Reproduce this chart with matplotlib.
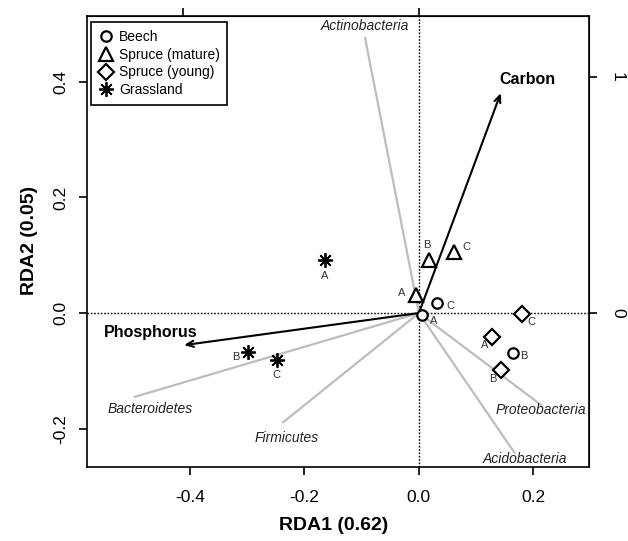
import matplotlib
matplotlib.use('Agg')
import matplotlib.pyplot as plt
import numpy as np

plt.rcParams['font.family'] = ['Liberation Sans', 'DejaVu Sans']
plt.rcParams['axes.unicode_minus'] = False

# site scores (RDA1, RDA2)
groups = ['Beech', 'Spruce (mature)', 'Spruce (young)', 'Grassland']
site_labels = ['A', 'B', 'C']
beech_x = [0.006, 0.164, 0.032]
beech_y = [-0.003, -0.069, 0.018]
spruce_m_x = [-0.005, 0.018, 0.062]
spruce_m_y = [0.032, 0.092, 0.105]
spruce_y_x = [0.128, 0.144, 0.180]
spruce_y_y = [-0.041, -0.098, -0.002]
grass_x = [-0.164, -0.298, -0.248]
grass_y = [0.092, -0.068, -0.082]

# species scores (gray lines)
species = ['Actinobacteria', 'Bacteroidetes', 'Firmicutes', 'Proteobacteria', 'Acidobacteria']
species_x = [-0.094, -0.496, -0.237, 0.213, 0.167]
species_y = [0.476, -0.145, -0.189, -0.159, -0.242]

# environmental vectors (secondary axis units)
env = ['Carbon', 'Phosphorus']
env_x = [0.347, -0.996]
env_y = [0.932, -0.136]

kx = 2.43   # primary -> secondary scale
ky = 2.45

fig = plt.figure(figsize=(6.28, 5.41), dpi=100)
ax = fig.add_axes([0.138, 0.1362, 0.800, 0.8342])
ax.set_xlim(-0.580, 0.297)
ax.set_ylim(-0.267, 0.514)

ax.axhline(0, color='black', lw=1.0, ls=(0, (1.2, 1.2)), zorder=1)
ax.axvline(0, color='black', lw=1.0, ls=(0, (1.2, 1.2)), zorder=1)

# species lines
sp_lab_off = [(0, 12), (15, -12), (4, -16), (0, -5), (10, -6)]
for name, sx, sy, off in zip(species, species_x, species_y, sp_lab_off):
	ax.plot([0, sx], [0, sy], color='#bdbdbd', lw=1.6, zorder=2)
	ax.annotate(name, (sx, sy), xytext=off, textcoords='offset pixels',
		ha='center', va='center', fontsize=10, style='italic', color='#222222')

# environmental arrows
env_lab_pos = [(527, 80), (151, 333)]
for name, ex, ey, lp in zip(env, env_x, env_y, env_lab_pos):
	ax.annotate('', xy=(ex / kx, ey / ky), xytext=(0, 0),
		arrowprops=dict(arrowstyle='->,head_length=0.5,head_width=0.22', color='black', lw=1.5,
			shrinkA=0, shrinkB=0), zorder=3)
	fig.text(lp[0] / 628, 1 - lp[1] / 541, name, ha='center', va='center',
		fontsize=11.5, fontweight='bold')

# sites
markers = ['o', '^', 'D', (8, 2, 0)]
msizes = [7.5, 10, 8, 10.5]
xs = [beech_x, spruce_m_x, spruce_y_x, grass_x]
ys = [beech_y, spruce_m_y, spruce_y_y, grass_y]
offsets = [
	[(11, -6), (11, -3), (13, -3)],
	[(-14, 2), (-2, 15), (12, 5)],
	[(-8, -8), (-9, -9), (9, -8)],
	[(0, -16), (-12, -5), (0, -15)],
]
for g, m, ms, gx, gy, offs in zip(groups, markers, msizes, xs, ys, offsets):
	if m == (8, 2, 0):
		ax.plot(gx, gy, ls='none', marker=m, ms=ms, mec='black', mew=1.3, label=g, zorder=4)
	else:
		ax.plot(gx, gy, ls='none', marker=m, ms=ms, mfc='white', mec='black', mew=1.6,
			label=g, zorder=4)
	for lab, px, py, off in zip(site_labels, gx, gy, offs):
		ax.annotate(lab, (px, py), xytext=off, textcoords='offset pixels',
			ha='center', va='center', fontsize=8, color='#333333', zorder=5)

leg = ax.legend(loc='upper left', bbox_to_anchor=(0.0086, 0.9867), borderaxespad=0,
	fontsize=10, frameon=True, fancybox=False, edgecolor='black', framealpha=1,
	handlelength=1.0, handletextpad=0.45, labelspacing=0.28, borderpad=0.55)
leg.get_frame().set_linewidth(1.2)

ax.set_xticks([-0.4, -0.2, 0.0, 0.2])
ax.set_xticklabels(['-0.4', '-0.2', '0.0', '0.2'])
ax.set_yticks([-0.2, 0.0, 0.2, 0.4])
ax.set_yticklabels(['-0.2', '0.0', '0.2', '0.4'])
ax.tick_params(axis='x', direction='out', length=6, width=1.2, labelsize=12.5, pad=10)
ax.tick_params(axis='y', direction='out', length=6, width=1.2, labelsize=12.5, pad=7,
	labelrotation=90)
for lab in ax.get_yticklabels():
	lab.set_va('center')
for s in ax.spines.values():
	s.set_linewidth(1.2)

top = ax.secondary_xaxis('top', functions=(lambda v: v * kx, lambda v: v / kx))
top.set_xticks([-1, 0])
top.set_xticklabels(['', ''])
top.tick_params(direction='out', length=6, width=1.2)
right = ax.secondary_yaxis('right', functions=(lambda v: v * ky, lambda v: v / ky))
right.set_yticks([0, 1])
right.set_yticklabels(['0', '1'], rotation=270, va='center')
right.tick_params(direction='out', length=6, width=1.2, labelsize=12.5, pad=9)

fig.text(334 / 628, 1 - 525 / 541, 'RDA1 (0.62)', ha='center', va='center',
	fontsize=14, fontweight='bold')
fig.text(30 / 628, 1 - 240 / 541, 'RDA2 (0.05)', ha='center', va='center',
	fontsize=14, fontweight='bold', rotation=90)

fig.savefig('out.png', dpi=100)
